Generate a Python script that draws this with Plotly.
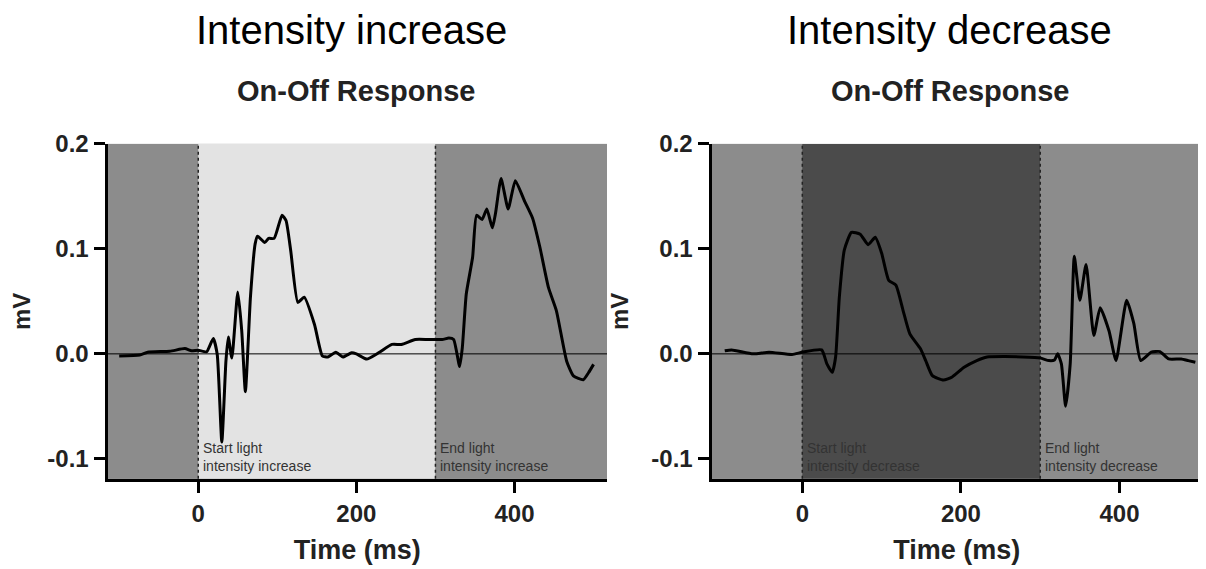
import plotly.graph_objects as go

# ---- data ----
time_inc = [-100, -74, -64, -36, -17, -8.5, 0, 10.6, 19, 24, 29.8, 35, 38, 42.5, 50, 55, 59.6, 66, 72, 75,
            84, 89, 96, 106, 111, 117, 126, 134, 147, 157, 164, 174, 183, 194, 200, 213, 228, 245, 257,
            274.5, 291, 308.5, 317, 323, 330.6, 334, 339, 347, 352, 359, 365, 372, 376, 383, 392, 401,
            413, 423, 432, 443, 453, 466, 474.5, 487, 493.6, 500]
mv_inc = [-0.002, -0.001, 0.0016, 0.0025, 0.005, 0.003, 0.0035, 0.002, 0.0147, -0.0006, -0.084, -0.007,
          0.016, -0.004, 0.059, 0.022, -0.036, 0.054, 0.105, 0.112, 0.106, 0.11, 0.11, 0.132, 0.127, 0.098,
          0.049, 0.054, 0.028, -0.002, -0.003, 0.0016, -0.003, 0.001, 0.0, -0.005, 0.001, 0.009, 0.009,
          0.0137, 0.0137, 0.0137, 0.015, 0.0137, -0.012, 0.006, 0.057, 0.092, 0.132, 0.128, 0.138, 0.12,
          0.134, 0.167, 0.138, 0.165, 0.145, 0.129, 0.102, 0.063, 0.041, -0.007, -0.021, -0.0246, -0.018,
          -0.010]

time_dec = [-97.8, -89, -62, -42, -13, 0, 24.4, 31, 37.8, 42, 46.7, 53, 62, 73, 83, 92, 100, 109, 118,
            127, 135.6, 149, 155.6, 164, 178, 189, 204, 220, 233, 255.6, 278, 300, 311, 318, 322, 326.7,
            332, 337.8, 343, 350, 357.8, 367.6, 375.6, 386.7, 395.6, 409, 418, 426.7, 440, 451, 462,
            477.8, 486.7, 495.6]
mv_dec = [0.003, 0.0038, 0.0, 0.0016, -0.0006, 0.0016, 0.0038, -0.0096, -0.0176, -0.003, 0.054, 0.099,
          0.1157, 0.114, 0.104, 0.111, 0.096, 0.070, 0.0655, 0.0415, 0.019, 0.0048, -0.0064, -0.0208,
          -0.025, -0.022, -0.0128, -0.0064, -0.003, -0.0026, -0.003, -0.004, -0.0064, -0.0058, 0.0,
          -0.0096, -0.05, -0.0096, 0.093, 0.051, 0.085, 0.0176, 0.044, 0.022, -0.0064, 0.051, 0.029,
          -0.0064, 0.0016, 0.0022, -0.0048, -0.0048, -0.0064, -0.008]

titles = ["Intensity increase", "Intensity decrease"]
subtitle = "On-Off Response"
phase_edges = [0, 300]
start_labels = ["Start light<br>intensity increase", "Start light<br>intensity decrease"]
end_labels = ["End light<br>intensity increase", "End light<br>intensity decrease"]
x_tickvals = [0, 200, 400]
y_tickvals = [-0.1, 0.0, 0.1, 0.2]
y_ticktext = ["-0.1", "0.0", "0.1", "0.2"]

# ---- layout geometry (page pixels; the page body adds an 8px margin) ----
OFF = 8
W, H = 1206 - OFF, 569 - OFF


def px_x(p):
    return (p - OFF) / W


def px_y(p):
    return 1 - (p - OFF) / H


FONT = "Liberation Sans, Arial, sans-serif"
outer_gray = "#8c8c8c"
mid_colors = ["#e3e3e3", "#4b4b4b"]
x_ranges = [[-114.8, 517], [-114.5, 504]]
x_domains = [[px_x(107.5), px_x(607)], [px_x(711.5), px_x(1202)]]
y_domain = [px_y(476.5), px_y(133)]
y_range = [-0.119, 0.2]
title_x = [351, 949]
sub_x = [356, 950]

fig = go.Figure()
fig.add_trace(go.Scatter(x=time_inc, y=mv_inc, mode="lines", xaxis="x", yaxis="y",
                         line=dict(color="black", width=3, shape="spline", smoothing=0.5),
                         showlegend=False, hoverinfo="skip"))
fig.add_trace(go.Scatter(x=time_dec, y=mv_dec, mode="lines", xaxis="x2", yaxis="y2",
                         line=dict(color="black", width=3, shape="spline", smoothing=0.5),
                         showlegend=False, hoverinfo="skip"))

shapes = []
annotations = []
for i in range(2):
    xa = "x" if i == 0 else "x2"
    ya = "y" if i == 0 else "y2"
    xr = x_ranges[i]
    segs = [(xr[0], phase_edges[0], outer_gray),
            (phase_edges[0], phase_edges[1], mid_colors[i]),
            (phase_edges[1], xr[1], outer_gray)]
    for (a, b, c) in segs:
        shapes.append(dict(type="rect", xref=xa, yref=ya + " domain", x0=a, x1=b, y0=0, y1=1,
                           fillcolor=c, line=dict(width=0), layer="below"))
    shapes.append(dict(type="line", xref=xa + " domain", yref=ya, x0=0, x1=1, y0=0, y1=0,
                       line=dict(color="black", width=1), layer="below"))
    for e in phase_edges:
        shapes.append(dict(type="line", xref=xa, yref=ya + " domain", x0=e, x1=e, y0=0, y1=1,
                           line=dict(color="#222222", width=1.5, dash="dot"), layer="below"))
    for e, txt in zip(phase_edges, [start_labels[i], end_labels[i]]):
        annotations.append(dict(x=e, y=0, xref=xa, yref=ya + " domain", text=txt, showarrow=False,
                                xanchor="left", yanchor="bottom", xshift=3, yshift=3, align="left",
                                font=dict(family=FONT, size=14, color="#333333")))
    annotations.append(dict(x=px_x(title_x[i]), y=px_y(16), xref="paper", yref="paper", text=titles[i],
                            showarrow=False, xanchor="center", yanchor="middle",
                            font=dict(family=FONT, size=40, color="black")))
    annotations.append(dict(x=px_x(sub_x[i]), y=px_y(79), xref="paper", yref="paper", text=subtitle,
                            showarrow=False, xanchor="center", yanchor="middle",
                            font=dict(family=FONT, size=29, color="#222222", weight="bold")))

axis_common = dict(showgrid=False, zeroline=False, showline=True, linecolor="black", linewidth=3,
                   ticks="outside", ticklen=11, tickwidth=3, tickcolor="black",
                   tickfont=dict(family=FONT, size=24, color="#222222", weight="bold"))

layout = dict(
    width=W, height=H, margin=dict(l=0, r=0, t=0, b=0),
    paper_bgcolor="white", plot_bgcolor=outer_gray,
    shapes=shapes, annotations=annotations, showlegend=False,
)
for i in range(2):
    sx = "" if i == 0 else "2"
    layout["xaxis" + sx] = dict(axis_common, domain=x_domains[i], range=x_ranges[i], anchor="y" + sx,
                                tickvals=x_tickvals, ticklabelstandoff=0,
                                title=dict(text="Time (ms)", standoff=15,
                                           font=dict(family=FONT, size=27, color="#222222", weight="bold")))
    layout["yaxis" + sx] = dict(axis_common, domain=y_domain, range=y_range, anchor="x" + sx,
                                tickvals=y_tickvals, ticktext=y_ticktext,
                                title=dict(text="mV", standoff=16,
                                           font=dict(family=FONT, size=24, color="#222222", weight="bold")))

fig.update_layout(**layout)
fig.write_html("out.html")
